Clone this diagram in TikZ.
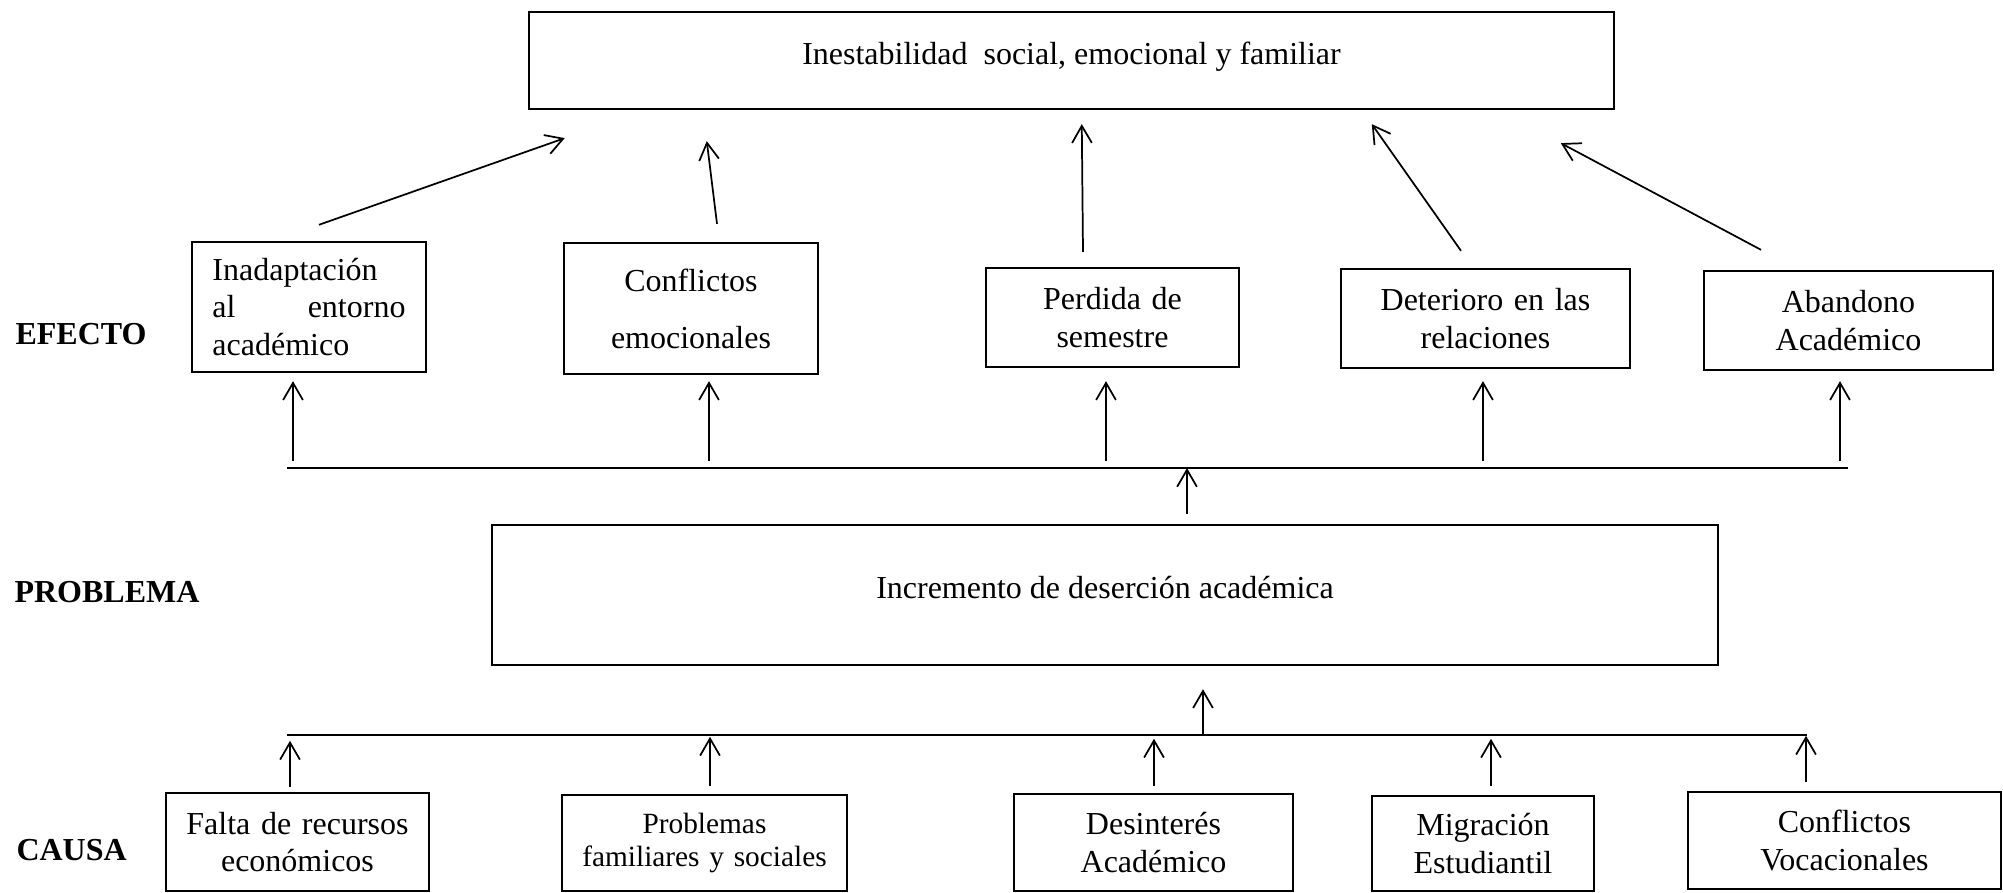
\documentclass[tikz,border=0pt]{standalone}
\usepackage{fontspec}
\setmainfont{Liberation Serif}
\usetikzlibrary{arrows.meta}
\begin{document}
\begin{tikzpicture}[x=0.375pt,y=-0.375pt,
  box/.style={draw,line width=0.9pt,inner sep=0pt,align=center,font=\fontsize{12}{14}\selectfont},
  arr/.style={line width=0.65pt,-{Straight Barb[length=6.4pt,width=7.4pt]}},
  hline/.style={line width=0.65pt},
  lab/.style={anchor=base west,inner sep=0pt,font=\fontsize{12}{14}\selectfont\bfseries}]
\useasboundingbox (0,0) rectangle (2003,893);
% top effect
\node[box,minimum width=406.9pt,minimum height=36.4pt,text height=9pt,text depth=6pt] (top) at (1071.5,60.4)
  {Inestabilidad\ \ social, emocional y familiar};
% effects
\node[box,minimum width=87.75pt,minimum height=48.75pt,text width=72.4pt,align=left] (E1) at (309,307)
  {Inadaptación\\al\hfill entorno\\académico};
\node[box,minimum width=95.25pt,minimum height=49.1pt,text width=90pt,font=\fontsize{12}{21.4}\selectfont] (E2) at (691,308.5)
  {Conflictos\\emocionales};
\node[box,minimum width=94.9pt,minimum height=37.1pt,text width=90pt] (E3) at (1112.5,317.5)
  {Perdida de\\semestre};
\node[box,minimum width=108.4pt,minimum height=37.1pt,text width=104pt] (E4) at (1485.5,318.5)
  {Deterioro en las\\relaciones};
\node[box,minimum width=108.4pt,minimum height=37.1pt,text width=104pt] (E5) at (1848.5,320.5)
  {Abandono\\Académico};
% problem
\node[box,minimum width=459.75pt,minimum height=52.5pt,text height=9pt,text depth=6pt] (P) at (1105,595)
  {Incremento de deserción académica};
% causes
\node[box,minimum width=98.6pt,minimum height=36.75pt,text width=95pt] (C1) at (297.5,842)
  {Falta de recursos\\económicos};
\node[box,minimum width=106.9pt,minimum height=36pt,text width=104pt,font=\fontsize{11}{12.5}\selectfont] (C2) at (704.5,843)
  {Problemas\\familiares y sociales};
\node[box,minimum width=104.6pt,minimum height=36.4pt,text width=100pt] (C3) at (1153.5,842.5)
  {Desinterés\\Académico};
\node[box,minimum width=83.25pt,minimum height=35.6pt,text width=80pt] (C4) at (1483,843.5)
  {Migración\\Estudiantil};
\node[box,minimum width=117.4pt,minimum height=36.4pt,text width=114pt] (C5) at (1844.5,840.5)
  {Conflictos\\Vocacionales};
% row labels
\node[lab] (lE) at (15,345) {EFECTO};
\node[lab] (lP) at (14,603) {PROBLEMA};
\node[lab] (lC) at (16,861) {CAUSA};
% horizontal lines
\coordinate (La) at (287,468);
\coordinate (Lb) at (1848,468);
\coordinate (Ma) at (287,735);
\coordinate (Mb) at (1807,735);
\draw[hline] (La) -- (Lb);
\draw[hline] (Ma) -- (Mb);
% effects -> top
\draw[arr] ([shift={(10,-16)}]E1.north) -- ([shift={(37,28)}]top.south west);
\draw[arr] ([shift={(26,-18)}]E2.north) -- ([shift={(179,31)}]top.south west);
\draw[arr] ([shift={(-29.5,-15)}]E3.north) -- ([shift={(554,14)}]top.south west);
\draw[arr] ([shift={(-24.5,-17)}]E4.north) -- ([shift={(844,14)}]top.south west);
\draw[arr] ([shift={(-87.5,-20)}]E5.north) -- ([shift={(1033,33)}]top.south west);
% line -> effects
\draw[arr] ([shift={(-16,88)}]E1.south) -- ([shift={(-16,8)}]E1.south);
\draw[arr] ([shift={(18,86)}]E2.south) -- ([shift={(18,6)}]E2.south);
\draw[arr] ([shift={(-6.5,93)}]E3.south) -- ([shift={(-6.5,13)}]E3.south);
\draw[arr] ([shift={(-2.5,92)}]E4.south) -- ([shift={(-2.5,12)}]E4.south);
\draw[arr] ([shift={(-8.5,90)}]E5.south) -- ([shift={(-8.5,10)}]E5.south);
% problem -> line
\draw[arr] ([shift={(82,-10)}]P.north) -- ([shift={(82,0)}]P.north |- La);
% cause line -> problem
\draw[arr] ([shift={(98,0)}]P.south |- Ma) -- ([shift={(98,23)}]P.south);
% causes -> line
\draw[arr] ([shift={(-7.5,-5)}]C1.north) -- ([shift={(-7.5,-51)}]C1.north);
\draw[arr] ([shift={(5.5,-8)}]C2.north) -- ([shift={(5.5,-57)}]C2.north);
\draw[arr] ([shift={(0.5,-7)}]C3.north) -- ([shift={(0.5,-54)}]C3.north);
\draw[arr] ([shift={(8,-9)}]C4.north) -- ([shift={(8,-56)}]C4.north);
\draw[arr] ([shift={(-38.5,-9)}]C5.north) -- ([shift={(-38.5,-55)}]C5.north);
\end{tikzpicture}
\end{document}
